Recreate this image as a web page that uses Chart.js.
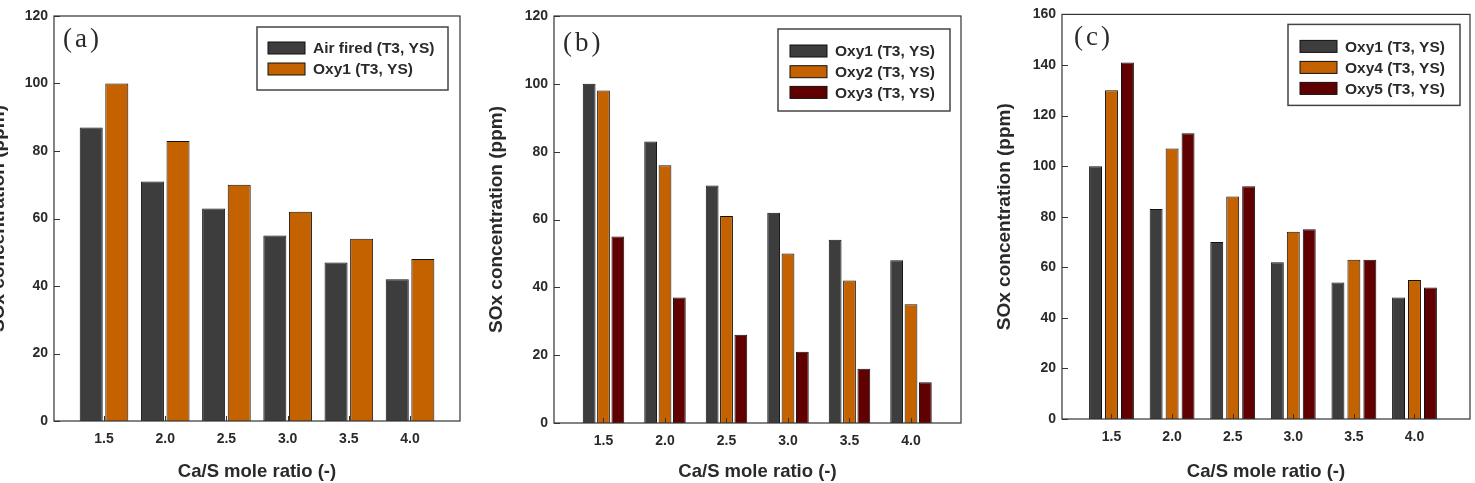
<!DOCTYPE html>
<html>
<head>
<meta charset="utf-8">
<script src="https://cdn.jsdelivr.net/npm/chart.js@4/dist/chart.umd.min.js"></script>
<style>
html, body { margin: 0; padding: 0; background: #fff; width: 1475px; height: 483px; overflow: hidden; position: relative; }
.panel { position: absolute; top: 0; height: 483px; }
</style>
</head>
<body>
<div class="panel" style="left:-30px;width:500px"><canvas id="chartA" width="500" height="483"></canvas></div>
<div class="panel" style="left:480px;width:491px"><canvas id="chartB" width="491" height="483"></canvas></div>
<div class="panel" style="left:980px;width:495px"><canvas id="chartC" width="495" height="483"></canvas></div>
<script>
// Ca/S mole ratio categories
var categories = [1.5, 2.0, 2.5, 3.0, 3.5, 4.0];
var tickLabels = ['1.5', '2.0', '2.5', '3.0', '3.5', '4.0'];

// SOx concentration (ppm)
var airFired = [87, 71, 63, 55, 47, 42];
var oxy1 = [100, 83, 70, 62, 54, 48];
var oxy2 = [98, 76, 61, 50, 42, 35];
var oxy3 = [55, 37, 26, 21, 16, 12];
var oxy4 = [130, 107, 88, 74, 63, 55];
var oxy5 = [141, 113, 92, 75, 63, 52];

var GRAY = '#3d3d3d', ORANGE = '#c46200', RED = '#600000';
var FONT = "'Liberation Sans', Arial, sans-serif";
var INK = '#2a2a2a';

function points(vals) {
    return categories.map(function(c, i) { return { x: c, y: vals[i] }; });
}

function ds(label, vals, color) {
    return {
        label: label,
        data: points(vals),
        backgroundColor: color,
        borderColor: '#111',
        borderWidth: 1,
        borderSkipped: 'bottom'
    };
}

var panelPlugin = {
    id: 'panel',
    afterDraw: function(chart, args, o) {
        var ctx = chart.ctx, a = chart.chartArea;
        var xs = chart.scales.x, ys = chart.scales.y;
        ctx.save();
        // frame
        ctx.strokeStyle = '#333';
        ctx.lineWidth = 1.2;
        ctx.strokeRect(a.left, a.top, a.right - a.left, a.bottom - a.top);
        // inward tick marks
        ctx.beginPath();
        ys.ticks.forEach(function(t) {
            var py = Math.round(ys.getPixelForValue(t.value)) + 0.5;
            ctx.moveTo(a.left, py);
            ctx.lineTo(a.left + 6, py);
        });
        categories.forEach(function(c) {
            var px = Math.round(xs.getPixelForValue(c)) + 0.5;
            ctx.moveTo(px, a.bottom);
            ctx.lineTo(px, a.bottom - 5);
        });
        ctx.lineWidth = 1;
        ctx.stroke();
        // panel label
        ctx.fillStyle = INK;
        ctx.font = "27px 'Liberation Serif', 'DejaVu Serif', serif";
        ctx.letterSpacing = '3px';
        ctx.textBaseline = 'middle';
        ctx.textAlign = 'left';
        ctx.fillText(o.tag, a.left + o.tagX, a.top + o.tagY);
        ctx.letterSpacing = '0px';
        // legend box
        var bw = o.boxW, bh = o.boxH;
        var bx = a.right - o.boxRight - bw, by = a.top + o.boxTop;
        ctx.fillStyle = '#fff';
        ctx.fillRect(bx, by, bw, bh);
        ctx.strokeStyle = '#444';
        ctx.lineWidth = 1.5;
        ctx.strokeRect(bx, by, bw, bh);
        ctx.font = 'bold 15.5px ' + FONT;
        chart.data.datasets.forEach(function(d, i) {
            var cy = by + o.rowTop + i * o.rowGap;
            ctx.fillStyle = d.backgroundColor;
            ctx.fillRect(bx + o.swX, cy - 6, 37, 12);
            ctx.strokeStyle = '#111';
            ctx.lineWidth = 1;
            ctx.strokeRect(bx + o.swX, cy - 6, 37, 12);
            ctx.fillStyle = INK;
            ctx.fillText(d.label, bx + o.swX + 45, cy + 1);
        });
        ctx.restore();
    }
};

function makeChart(id, cfg) {
    return new Chart(document.getElementById(id), {
        type: 'bar',
        data: { datasets: cfg.datasets },
        plugins: [panelPlugin],
        options: {
            responsive: false,
            animation: false,
            categoryPercentage: cfg.cp,
            barPercentage: cfg.bp,
            layout: { padding: { top: cfg.top, right: cfg.right, left: 0, bottom: 0 } },
            plugins: {
                legend: { display: false },
                tooltip: { enabled: false },
                panel: cfg.panel
            },
            scales: {
                x: {
                    type: 'linear',
                    offset: false,
                    min: cfg.xMin,
                    max: cfg.xMax,
                    grid: { display: false, drawTicks: false, tickLength: 0 },
                    border: { display: false },
                    afterBuildTicks: function(s) {
                        s.ticks = categories.map(function(c) { return { value: c }; });
                    },
                    afterFit: function(s) { s.height = cfg.xHeight; },
                    ticks: {
                        autoSkip: false,
                        maxRotation: 0,
                        padding: 10,
                        color: INK,
                        font: { family: FONT, size: 14, weight: 'bold' },
                        callback: function(v) { return tickLabels[categories.indexOf(v)]; }
                    },
                    title: {
                        display: true,
                        text: 'Ca/S mole ratio (-)',
                        color: INK,
                        font: { family: FONT, size: 18.5, weight: 'bold' },
                        padding: { top: 0, bottom: 0 }
                    }
                },
                y: {
                    min: 0,
                    max: cfg.yMax,
                    grid: { display: false, drawTicks: false, tickLength: 0 },
                    border: { display: false },
                    afterFit: function(s) { s.width = cfg.yWidth; },
                    ticks: {
                        stepSize: 20,
                        padding: 6,
                        color: INK,
                        font: { family: FONT, size: 14, weight: 'bold' }
                    },
                    title: {
                        display: true,
                        text: 'SOx concentration (ppm)',
                        color: INK,
                        font: { family: FONT, size: 19, weight: 'bold' },
                        padding: { top: cfg.yTitlePad, bottom: 0 }
                    }
                }
            }
        }
    });
}

makeChart('chartA', {
    datasets: [ds('Air fired (T3, YS)', airFired, GRAY), ds('Oxy1 (T3, YS)', oxy1, ORANGE)],
    cp: 0.836, bp: 0.9,
    xMin: 1.0915, xMax: 4.408, yMax: 120,
    top: 16, right: 10, yWidth: 84, xHeight: 62, yTitlePad: 17.6,
    panel: { tag: '(a)', tagX: 9, tagY: 24, boxRight: 12, boxTop: 11, boxW: 191, boxH: 63, swX: 11, rowTop: 21, rowGap: 21 }
});

makeChart('chartB', {
    datasets: [ds('Oxy1 (T3, YS)', oxy1, GRAY), ds('Oxy2 (T3, YS)', oxy2, ORANGE), ds('Oxy3 (T3, YS)', oxy3, RED)],
    cp: 0.70, bp: 0.89,
    xMin: 1.0976, xMax: 4.4065, yMax: 120,
    top: 16, right: 10, yWidth: 74, xHeight: 60, yTitlePad: 5.6,
    panel: { tag: '(b)', tagX: 9, tagY: 28, boxRight: 11, boxTop: 13, boxW: 172, boxH: 82, swX: 12, rowTop: 22, rowGap: 20.7 }
});

makeChart('chartC', {
    datasets: [ds('Oxy1 (T3, YS)', oxy1, GRAY), ds('Oxy4 (T3, YS)', oxy4, ORANGE), ds('Oxy5 (T3, YS)', oxy5, RED)],
    cp: 0.79, bp: 0.81,
    xMin: 1.0916, xMax: 4.458, yMax: 160,
    top: 13, right: 5, yWidth: 82, xHeight: 64, yTitlePad: 13.6,
    panel: { tag: '(c)', tagX: 12, tagY: 24, boxRight: 10, boxTop: 10, boxW: 172, boxH: 81, swX: 12, rowTop: 22, rowGap: 21 }
});
</script>
</body>
</html>
